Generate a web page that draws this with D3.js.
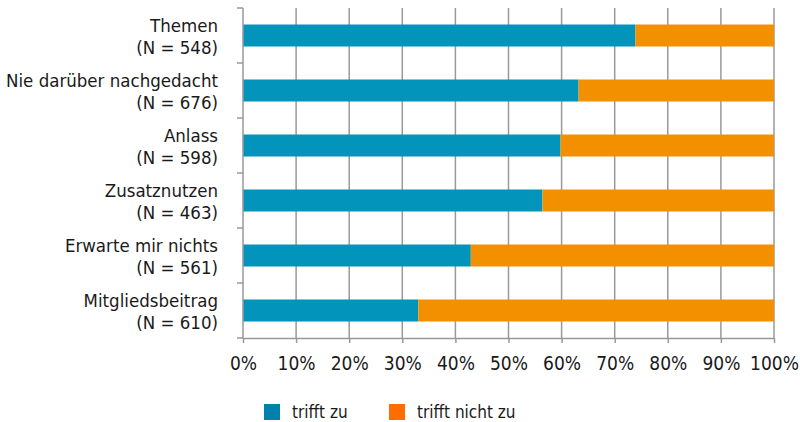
<!DOCTYPE html>
<html>
<head>
<meta charset="utf-8">
<script src="https://cdn.jsdelivr.net/npm/d3@7"></script>
<style>
  body { margin: 0; background: #fff; }
  svg text { font-family: "DejaVu Sans", sans-serif; font-stretch: condensed; fill: #1a1a1a; }
</style>
</head>
<body>
<svg id="chart" width="800" height="422"></svg>
<script>
const categories = ['Themen', 'Nie darüber nachgedacht', 'Anlass', 'Zusatznutzen', 'Erwarte mir nichts', 'Mitgliedsbeitrag'];
const counts = [548, 676, 598, 463, 561, 610];
const triffzu = [73.9, 63.2, 59.8, 56.4, 42.9, 33.0];
const triffnicht = triffzu.map(v => 100 - v);
const seriesNames = ['trifft zu', 'trifft nicht zu'];
const barColors = ['#0394bb', '#f39000'];
const legendColors = ['#0080ad', '#ff6d00'];
const xTicks = [0, 10, 20, 30, 40, 50, 60, 70, 80, 90, 100];

const svg = d3.select('#chart');
const margin = { top: 8, right: 26, bottom: 84, left: 243 };
const width = 800 - margin.left - margin.right;
const height = 422 - margin.top - margin.bottom;

const g = svg.append('g').attr('transform', `translate(${margin.left},${margin.top})`);

const x = d3.scaleLinear().domain([0, 100]).range([0, width]);
const y = d3.scaleBand().domain(categories).range([0, height]).paddingInner(0.6).paddingOuter(0.3);

// vertical grid lines
g.append('g')
  .selectAll('line')
  .data(xTicks.slice(1))
  .enter().append('line')
  .attr('x1', d => x(d)).attr('x2', d => x(d))
  .attr('y1', 0).attr('y2', height)
  .attr('stroke', '#999').attr('stroke-width', 1.5);

// stacked bars
const rows = categories.map((c, i) => ({ cat: c, a: triffzu[i], b: triffnicht[i] }));
const stack = d3.stack().keys(['a', 'b'])(rows);
g.append('g')
  .selectAll('g')
  .data(stack)
  .enter().append('g')
  .attr('fill', (d, i) => barColors[i])
  .selectAll('rect')
  .data(d => d)
  .enter().append('rect')
  .attr('x', d => x(d[0]))
  .attr('width', d => x(d[1]) - x(d[0]))
  .attr('y', d => y(d.data.cat))
  .attr('height', y.bandwidth());

// x axis
const xAxis = g.append('g')
  .attr('transform', `translate(0,${height})`)
  .call(d3.axisBottom(x).tickValues(xTicks).tickFormat(d => d + '%').tickSize(5).tickSizeOuter(0));
xAxis.select('.domain').attr('stroke', '#999').attr('stroke-width', 1.5);
xAxis.selectAll('.tick line').attr('stroke', '#999').attr('stroke-width', 1.5);
xAxis.selectAll('.tick text').attr('font-size', 19).attr('dy', '0.35em').attr('y', 25);

// y axis line and ticks at category boundaries
const yG = g.append('g');
yG.append('line')
  .attr('x1', 0).attr('x2', 0).attr('y1', 0).attr('y2', height)
  .attr('stroke', '#999').attr('stroke-width', 1.5);
yG.selectAll('.yt')
  .data(d3.range(categories.length + 1))
  .enter().append('line')
  .attr('x1', -6).attr('x2', 0)
  .attr('y1', i => i * height / categories.length)
  .attr('y2', i => i * height / categories.length)
  .attr('stroke', '#999').attr('stroke-width', 1.5);

// category labels
const labels = g.append('g').selectAll('text')
  .data(categories)
  .enter().append('text')
  .attr('text-anchor', 'end')
  .attr('font-size', 18.5)
  .attr('x', -25)
  .attr('y', d => y(d) + y.bandwidth() / 2);
labels.append('tspan').attr('x', -25).attr('dy', '-0.2em').text(d => d);
labels.append('tspan').attr('x', -25).attr('dy', '1.2em').text((d, i) => `(N = ${counts[i]})`);

// legend
const legend = svg.append('g').attr('transform', 'translate(264,404)');
const legendX = [0, 125];
seriesNames.forEach((name, i) => {
  const lg = legend.append('g').attr('transform', `translate(${legendX[i]},0)`);
  lg.append('rect').attr('width', 16).attr('height', 16).attr('fill', legendColors[i]);
  lg.append('text').attr('x', 28).attr('y', 8).attr('dy', '0.35em').attr('font-size', 17).text(name);
});
</script>
</body>
</html>
